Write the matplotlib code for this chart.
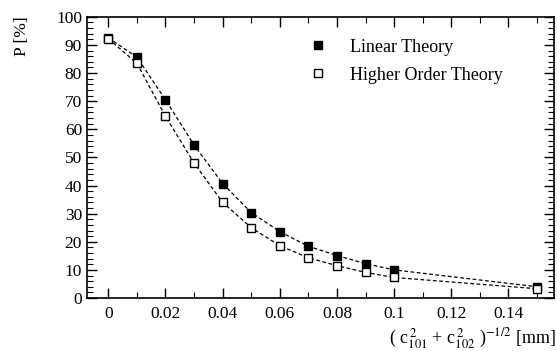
import numpy as np
import matplotlib.pyplot as plt
from matplotlib.ticker import MultipleLocator

plt.rcParams['font.family'] = ['Liberation Serif', 'DejaVu Serif']
plt.rcParams['mathtext.fontset'] = 'stix'

x = [0, 0.01, 0.02, 0.03, 0.04, 0.05, 0.06, 0.07, 0.08, 0.09, 0.1, 0.15]
linear = [92.5, 85.7, 70.5, 54.4, 40.7, 30.4, 23.6, 18.4, 15.1, 12.2, 10.0, 4.0]  # Linear Theory
higher = [92.2, 83.5, 64.6, 48.0, 34.0, 25.0, 18.6, 14.3, 11.5, 9.1, 7.3, 3.3]  # Higher Order Theory

fig = plt.figure(figsize=(5.57, 3.51), dpi=100)
ax = fig.add_axes([0.156, 0.151, 0.839, 0.801])

ax.plot(x, linear, ls=(0, (3, 2)), lw=0.9, color='black', marker='s', ms=6,
        mfc='black', mec='black', label='Linear Theory')
ax.plot(x, higher, ls=(0, (3, 2)), lw=0.9, color='black', marker='s', ms=6,
        mfc='white', mec='black', mew=1.0, label='Higher Order Theory')

ax.set_xlim(-0.0075, 0.156)
ax.set_ylim(0, 100)
ax.xaxis.set_major_locator(MultipleLocator(0.02))
ax.xaxis.set_minor_locator(MultipleLocator(0.01))
ax.yaxis.set_major_locator(MultipleLocator(10))
ax.yaxis.set_minor_locator(MultipleLocator(2))
ax.set_xticks(np.arange(0, 0.15, 0.02))
ax.set_xticklabels(['0', '0.02', '0.04', '0.06', '0.08', '0.1', '0.12', '0.14'])
ax.tick_params(which='both', direction='in', top=True, right=True, labelsize=12.5)
ax.tick_params(which='major', length=7, width=1)
ax.tick_params(which='minor', length=4, width=0.8)
ax.tick_params(axis='x', pad=6)
for s in ax.spines.values():
    s.set_linewidth(1.2)

ax.set_ylabel('P [%]', fontsize=12.5, loc='top')
ax.yaxis.set_label_coords(-0.122, 1.0)
fig.text(0.998, 0.0, r'( c$^{\,2}_{101}$ + c$^{\,2}_{102}$ )$^{-1/2}$ [mm]',
         ha='right', va='bottom', fontsize=13)

leg = ax.legend(loc='upper right', bbox_to_anchor=(0.925, 0.98), frameon=False,
                handlelength=0.8, handletextpad=1.4, fontsize=13, labelspacing=0.6,
                numpoints=1)
for h in leg.get_lines():
    h.set_linestyle('none')

fig.savefig('out.png', dpi=100)
